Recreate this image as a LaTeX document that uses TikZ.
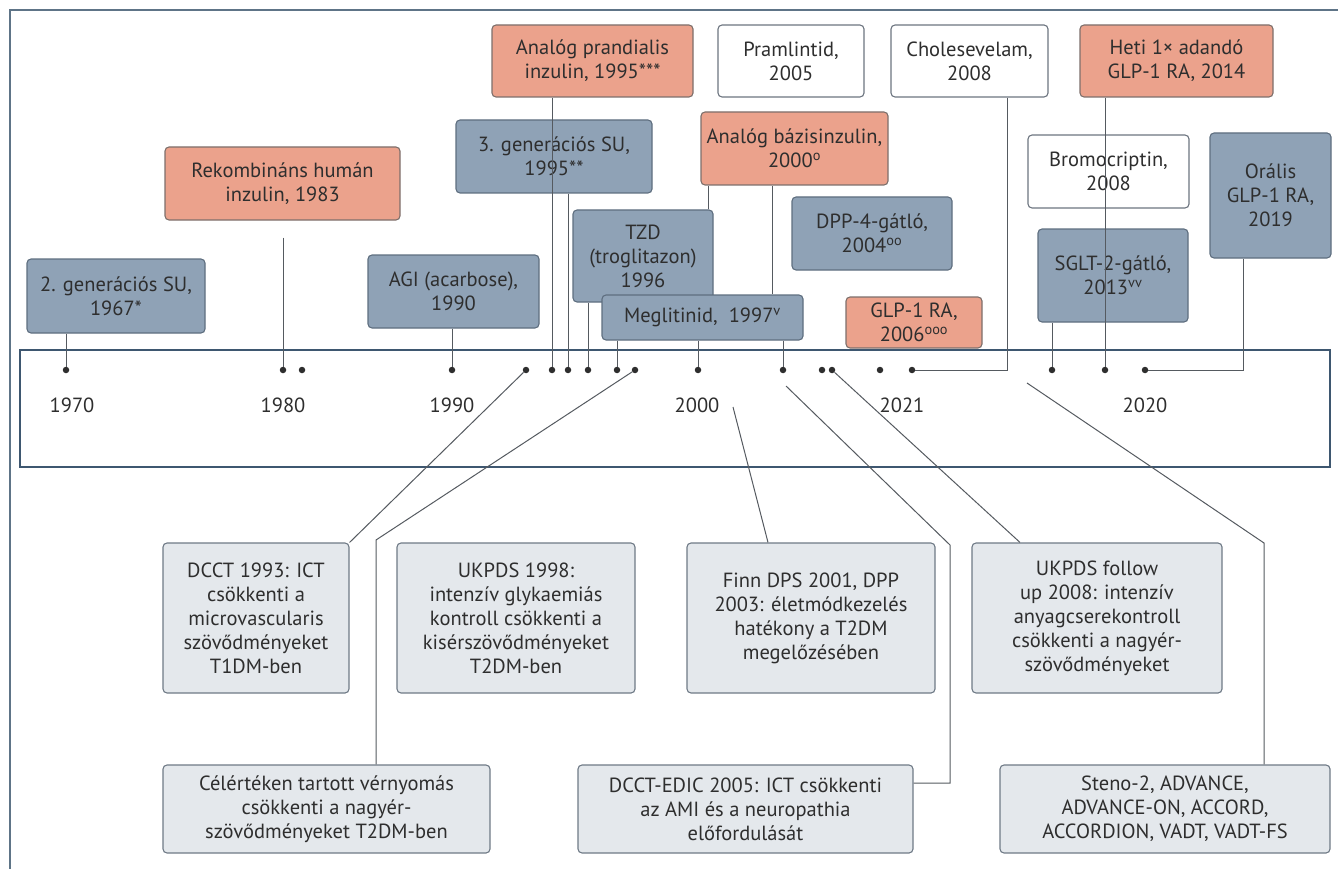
\documentclass[tikz,border=0pt]{standalone}
\usepackage{fontspec}
\setmainfont{PT Sans}
\definecolor{ink}{HTML}{2E2E2E}
\definecolor{salmonfill}{HTML}{EBA28C}
\definecolor{salmonline}{HTML}{7D6F6B}
\definecolor{slatefill}{HTML}{8FA2B6}
\definecolor{slateline}{HTML}{5E6E7F}
\definecolor{plainline}{HTML}{6D7580}
\definecolor{studyfill}{HTML}{E4E8EC}
\definecolor{studyline}{HTML}{6F7A86}
\definecolor{frame}{HTML}{5E7487}
\definecolor{axisline}{HTML}{3E5770}
\definecolor{linkcol}{HTML}{555A60}

\begin{document}
\begin{tikzpicture}[x=1pt, y=-1pt,
  every node/.style={font=\fontsize{20.5pt}{24pt}\selectfont, text=ink},
  box/.style 2 args={rounded corners=4pt, align=center, minimum width=#1pt, minimum height=#2pt, inner sep=2pt, line width=1.1pt},
  salmon/.style={fill=salmonfill, draw=salmonline},
  slate/.style={fill=slatefill, draw=slateline},
  plain/.style={fill=white, draw=plainline},
  study/.style={fill=studyfill, draw=studyline},
  year/.style={inner sep=1pt},
  dot/.style={circle, fill=ink, inner sep=0pt, minimum size=6.5pt},
  link/.style={draw=linkcol, line width=1pt}
]
\useasboundingbox (0,0) rectangle (1338,869);
\draw[frame, line width=1.6pt] (10,869) -- (10,10) -- (1338,10);
\draw[axisline, line width=2.6pt] (20,350) rectangle (1330,467);

\foreach \x [count=\i] in {66,283,302,452,526,552,568,588,617,635,698,783,822,832,880,912,1052,1105,1145}
  \node[dot] (d\i) at (\x,370) {};

\node[year] (y1970) at (72,405) {1970};
\node[year] (y1980) at (283,405) {1980};
\node[year] (y1990) at (452,405) {1990};
\node[year] (y2000) at (697,405) {2000};
\node[year] (y2021) at (902,405) {2021};
\node[year] (y2020) at (1145,405) {2020};

\node[salmon, box={201}{72}] (prand) at (592.5,61) {Analóg prandialis\\inzulin, 1995***};
\node[plain, box={146}{72}] (praml) at (791,61) {Pramlintid,\\2005};
\node[plain, box={157}{72}] (chol) at (969.5,61) {Cholesevelam,\\2008};
\node[salmon, box={193}{72}] (heti) at (1176.5,61) {Heti 1× adandó\\GLP-1 RA, 2014};
\node[salmon, box={235}{73}] (rekomb) at (282.5,183.5) {Rekombináns humán\\inzulin, 1983};
\node[slate, box={196}{73}] (su3) at (554,156.5) {3. generációs SU,\\1995**};
\node[salmon, box={187}{73}] (bazis) at (794.5,148.5) {Analóg bázisinzulin,\\2000\textsuperscript{o}};
\node[plain, box={161}{73}] (bromo) at (1108.5,171.5) {Bromocriptin,\\2008};
\node[slate, box={121}{125}] (oralis) at (1270.5,195.5) {Orális\\GLP-1 RA,\\2019};
\node[slate, box={160}{73}] (dpp) at (872,233.5) {DPP-4-gátló,\\2004\textsuperscript{oo}};
\node[slate, box={140}{92}] (tzd) at (643,256) {TZD\\(troglitazon)\\1996};
\node[slate, box={171}{73}] (agi) at (453.5,291.5) {AGI (acarbose),\\1990};
\node[slate, box={178}{74}] (su2) at (116,296) {2. generációs SU,\\1967*};
\node[slate, box={150}{93}] (sglt) at (1113,275.5) {SGLT-2-gátló,\\2013\textsuperscript{vv}};
\node[slate, box={201}{45}] (meglit) at (702.5,317.5) {Meglitinid,\ \ 1997\textsuperscript{v}};
\node[salmon, box={136}{51}] (glp) at (914,322.5) {GLP-1 RA,\\2006\textsuperscript{ooo}};

\node[study, box={186}{150}] (dcct) at (256,618) {DCCT 1993: ICT\\csökkenti a\\microvascularis\\szövődményeket\\T1DM-ben};
\node[study, box={238}{150}] (ukpds) at (516,618) {UKPDS 1998:\\intenzív glykaemiás\\kontroll csökkenti a\\kisérszövődményeket\\T2DM-ben};
\node[study, box={248}{150}] (finn) at (811,618) {Finn DPS 2001, DPP\\2003: életmódkezelés\\hatékony a T2DM\\megelőzésében};
\node[study, box={250}{150}] (ukfu) at (1097,618) {UKPDS follow\\up 2008: intenzív\\anyagcserekontroll\\csökkenti a nagyér-\\szövődményeket};
\node[study, box={327}{88}] (celert) at (326.5,809) {Célértéken tartott vérnyomás\\csökkenti a nagyér-\\szövődményeket T2DM-ben};
\node[study, box={335}{88}] (edic) at (745.5,809) {DCCT-EDIC 2005: ICT csökkenti\\az AMI és a neuropathia\\előfordulását};
\node[study, box={330}{88}] (steno) at (1165,809) {Steno-2, ADVANCE,\\ADVANCE-ON, ACCORD,\\ACCORDION, VADT, VADT-FS};

\draw[link] ([yshift=-17pt]d2 |- rekomb.south) -- (d2);
\draw[link] (d1 |- su2.south) -- (d1);
\draw[link] (d4 |- agi.south) -- (d4);
\draw[link] (d6 |- prand.south) -- (d6);
\draw[link] (d7 |- su3.south) -- (d7);
\draw[link] (d8 |- tzd.south) -- (d8);
\draw[link] (d9 |- meglit.south) -- (d9);
\draw[link] (d11 |- meglit.south) -- (d11);
\draw[link] (d12 |- meglit.south) -- (d12);
\draw[link] ([xshift=-5pt]tzd.north east) -- ([xshift=-5pt]tzd.north east |- bazis.south);
\draw[link] ([xshift=-31pt]meglit.north east) -- ([xshift=-31pt]meglit.north east |- bazis.south);
\draw[link] (d16) -| ([xshift=38pt]chol.south);
\draw[link] (d18 |- heti.south) -- (d18);
\draw[link] (d17 |- sglt.south) -- (d17);
\draw[link] (d19) -| ([xshift=-27pt]oralis.south);

\coordinate (celbend) at (376,540);
\coordinate (finnfoot) at (733,407);
\coordinate (edicfoot) at (786,386);
\coordinate (edicbend) at (950,545);
\coordinate (stenofoot) at (1027,383);
\coordinate (stenobend) at (1264,543);
\draw[link] (d5) -- (dcct.north east);
\draw[link] (d10) -- (celbend) -- (celbend |- celert.north);
\draw[link] (finnfoot) -- ([xshift=-43pt]finn.north);
\draw[link] (edicfoot) -- (edicbend) |- ([yshift=26pt]edic.east);
\draw[link] (d14) -- ([xshift=-77pt]ukfu.north);
\draw[link] (stenofoot) -- (stenobend) -- (stenobend |- steno.north);
\end{tikzpicture}
\end{document}
